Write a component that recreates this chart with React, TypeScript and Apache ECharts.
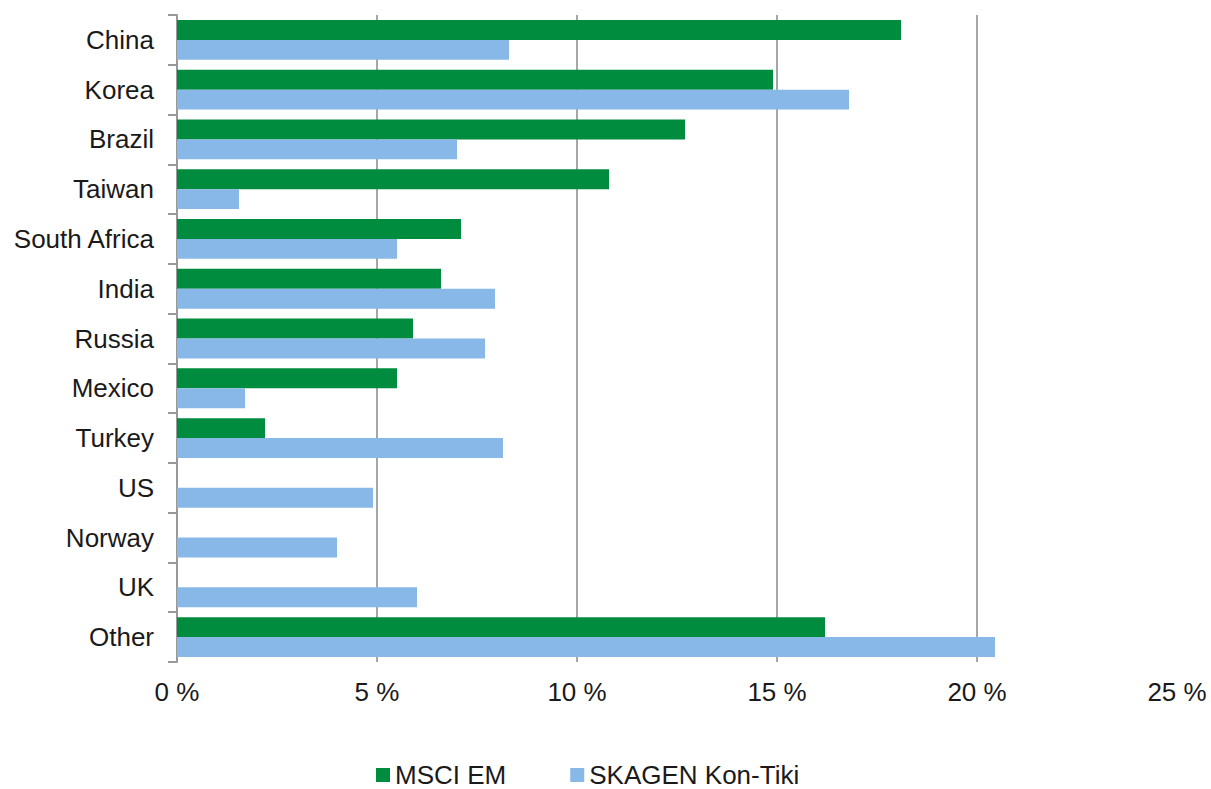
import React, { useEffect, useRef } from "react";
import * as echarts from "echarts";

const categories = [
  "China", "Korea", "Brazil", "Taiwan", "South Africa", "India", "Russia",
  "Mexico", "Turkey", "US", "Norway", "UK", "Other",
];
const msciEM = [18.1, 14.9, 12.7, 10.8, 7.1, 6.6, 5.9, 5.5, 2.2, 0, 0, 0, 16.2];
const konTiki = [8.3, 16.8, 7.0, 1.55, 5.5, 7.95, 7.7, 1.7, 8.15, 4.9, 4.0, 6.0, 20.45];
const xTicks = { min: 0, max: 25, interval: 5 };

const FONT = "'Liberation Sans', Arial, sans-serif";

export default function App() {
  const ref = useRef<HTMLDivElement>(null);
  useEffect(() => {
    if (!ref.current) return;
    const chart = echarts.init(ref.current, null, { renderer: "svg" });
    chart.setOption({
      animation: false,
      textStyle: { fontFamily: FONT },
      grid: { left: 177, right: 34, top: 15, bottom: 127, containLabel: false },
      legend: {
        left: 376,
        top: 762,
        padding: 0,
        icon: "rect",
        itemWidth: 14,
        itemHeight: 14,
        itemGap: 64,
        data: ["MSCI EM", "SKAGEN Kon-Tiki"],
        textStyle: { fontSize: 26, lineHeight: 26, color: "#1a1a1a", fontFamily: FONT },
      },
      xAxis: {
        type: "value",
        min: xTicks.min,
        max: xTicks.max,
        interval: xTicks.interval,
        axisLine: { show: false },
        axisTick: { show: false },
        axisLabel: {
          formatter: "{value} %",
          fontSize: 26,
          color: "#1a1a1a",
          fontFamily: FONT,
          margin: 17,
          showMaxLabel: true,
        },
        splitLine: {
          show: true,
          showMinLine: false,
          showMaxLine: false,
          lineStyle: { color: "#a6a6a6", width: 2 },
        },
      },
      yAxis: {
        type: "category",
        data: categories,
        inverse: true,
        axisLine: { show: true, lineStyle: { color: "#999999", width: 2 } },
        axisTick: { show: true, length: 9, lineStyle: { color: "#999999", width: 2 } },
        axisLabel: {
          fontSize: 26,
          color: "#1a1a1a",
          fontFamily: FONT,
          margin: 23,
        },
      },
      series: [
        {
          name: "MSCI EM",
          type: "bar",
          data: msciEM,
          barGap: "0%",
          barCategoryGap: "20%",
          itemStyle: { color: "#008c3e" },
        },
        {
          name: "SKAGEN Kon-Tiki",
          type: "bar",
          data: konTiki,
          barGap: "0%",
          barCategoryGap: "20%",
          itemStyle: { color: "#88b8e7" },
        },
      ],
    });
    return () => chart.dispose();
  }, []);
  return (
    <div
      ref={ref}
      style={{ position: "fixed", left: 0, top: 0, width: 1211, height: 789, background: "#fff" }}
    />
  );
}
